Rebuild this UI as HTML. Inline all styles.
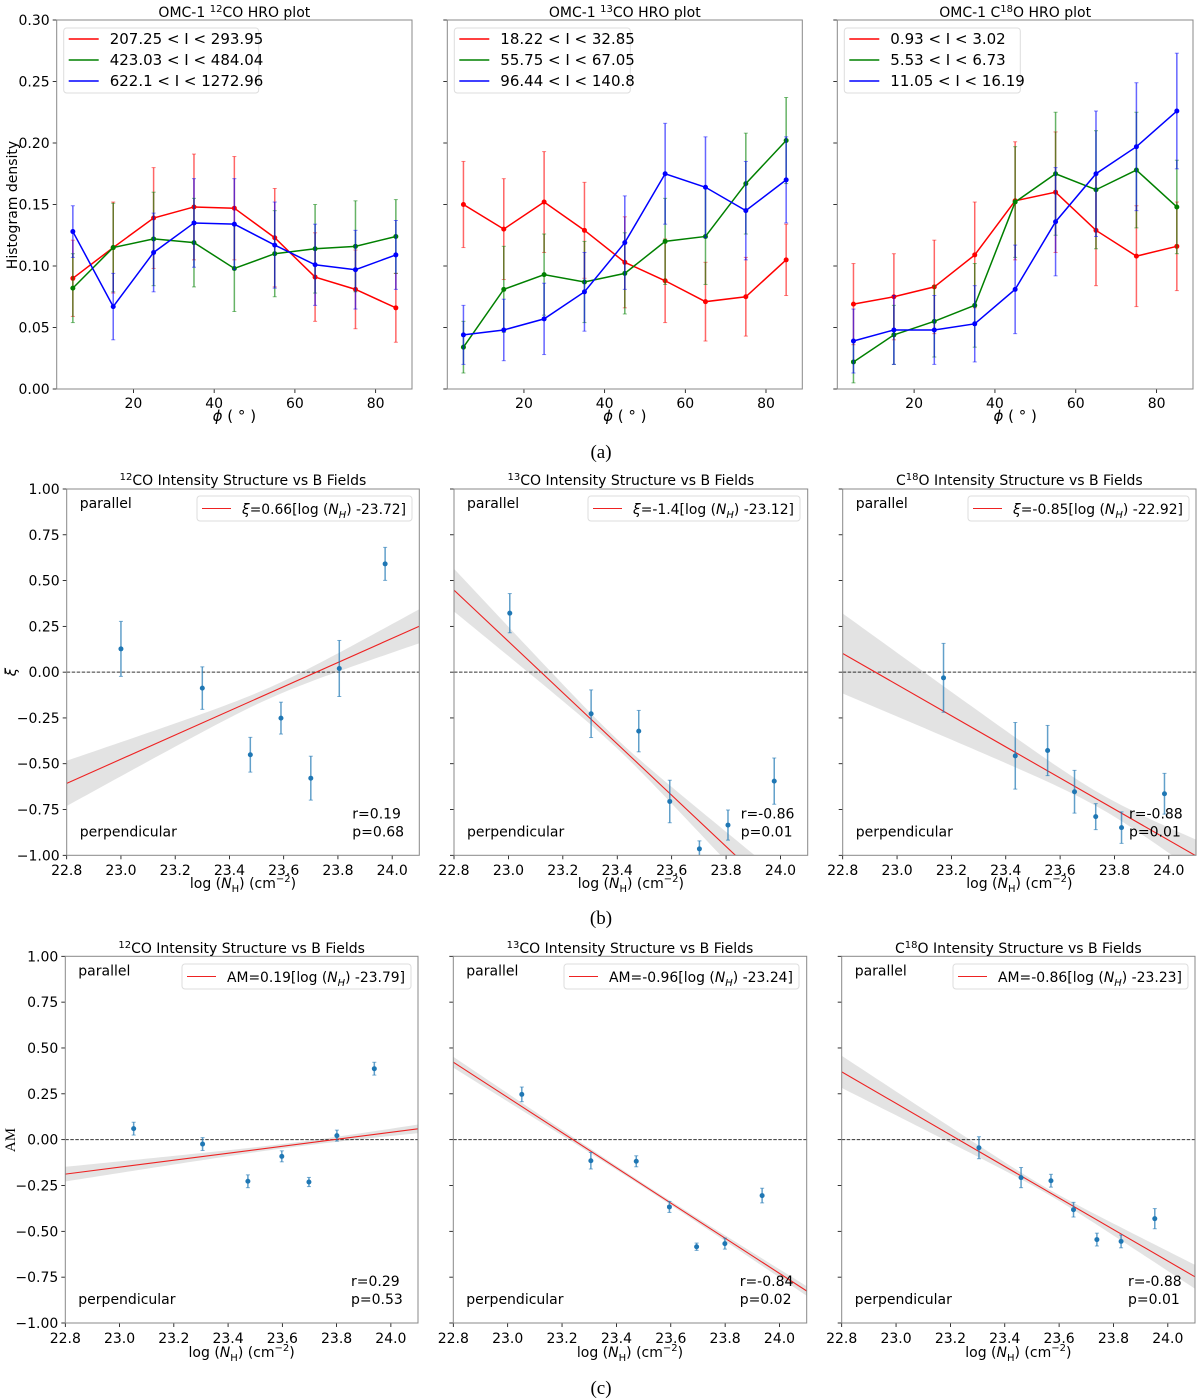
<!DOCTYPE html>
<html><head><meta charset="utf-8"><style>
html,body{margin:0;padding:0;background:#fff;}
svg{display:block;font-family:"DejaVu Sans","Liberation Sans",sans-serif;}
</style></head>
<body>
<svg id="fig" width="1200" height="1400" viewBox="0 0 1200 1400" xmlns="http://www.w3.org/2000/svg"></svg>
<script>
// ---------- Row (a) HRO data ----------
const phi=[5,15,25,35,45,55,65,75,85];
const hroTicksX=[20,40,60,80];
const hroTicksY=[0,0.05,0.10,0.15,0.20,0.25,0.30];
const hroTitles=['<tspan>OMC-1 </tspan><tspan dy="-5" font-size="10">12</tspan><tspan dy="5">CO HRO plot</tspan>','<tspan>OMC-1 </tspan><tspan dy="-5" font-size="10">13</tspan><tspan dy="5">CO HRO plot</tspan>','<tspan>OMC-1 C</tspan><tspan dy="-5" font-size="10">18</tspan><tspan dy="5">O HRO plot</tspan>'];
const hroLegend1=['207.25 < I < 293.95','423.03 < I < 484.04','622.1 < I < 1272.96'];
const hroLegend2=['18.22 < I < 32.85','55.75 < I < 67.05','96.44 < I < 140.8'];
const hroLegend3=['0.93 < I < 3.02','5.53 < I < 6.73','11.05 < I < 16.19'];
const co12Red=[0.090,0.115,0.139,0.148,0.147,0.123,0.091,0.081,0.066];
const co12RedErr=[0.031,0.037,0.041,0.043,0.042,0.040,0.036,0.032,0.028];
const co12Green=[0.082,0.115,0.122,0.119,0.098,0.110,0.114,0.116,0.124];
const co12GreenErr=[0.028,0.036,0.038,0.036,0.035,0.035,0.036,0.037,0.030];
const co12Blue=[0.128,0.067,0.111,0.135,0.134,0.117,0.101,0.097,0.109];
const co12BlueErr=[0.021,0.027,0.032,0.036,0.037,0.035,0.033,0.032,0.028];
const co13Red=[0.150,0.130,0.152,0.129,0.103,0.088,0.071,0.075,0.105];
const co13RedErr=[0.035,0.041,0.041,0.039,0.037,0.034,0.032,0.032,0.029];
const co13Green=[0.034,0.081,0.093,0.087,0.094,0.120,0.124,0.167,0.202];
const co13GreenErr=[0.021,0.035,0.033,0.033,0.033,0.035,0.039,0.041,0.035];
const co13Blue=[0.044,0.048,0.057,0.079,0.119,0.175,0.164,0.145,0.170];
const co13BlueErr=[0.024,0.025,0.029,0.032,0.038,0.041,0.041,0.040,0.035];
const c18Red=[0.069,0.075,0.083,0.109,0.153,0.160,0.129,0.108,0.116];
const c18RedErr=[0.033,0.035,0.038,0.043,0.048,0.049,0.045,0.041,0.036];
const c18Green=[0.022,0.044,0.055,0.068,0.152,0.175,0.162,0.178,0.148];
const c18GreenErr=[0.017,0.024,0.029,0.034,0.045,0.050,0.048,0.047,0.038];
const c18Blue=[0.039,0.048,0.048,0.053,0.081,0.136,0.175,0.197,0.226];
const c18BlueErr=[0.026,0.028,0.028,0.031,0.036,0.044,0.051,0.052,0.047];

// ---------- Rows (b),(c) data ----------
const nhTicks=[22.8,23.0,23.2,23.4,23.6,23.8,24.0];
const valTicks=[1.0,0.75,0.5,0.25,0,-0.25,-0.5,-0.75,-1.0];
const xiX12=[23.00,23.30,23.477,23.59,23.70,23.805,23.974];
const xiY12=[0.127,-0.087,-0.451,-0.251,-0.579,0.020,0.591];
const xiE12=[0.15,0.116,0.095,0.087,0.12,0.153,0.09];
const xiX13=[23.005,23.304,23.479,23.593,23.702,23.807,23.977];
const xiY13=[0.322,-0.227,-0.322,-0.706,-0.965,-0.835,-0.595];
const xiE13=[0.107,0.13,0.113,0.116,0.044,0.082,0.126];
const xiX18=[23.171,23.435,23.554,23.653,23.731,23.826,23.984];
const xiY18=[-0.031,-0.457,-0.428,-0.653,-0.789,-0.849,-0.664];
const xiE18=[0.188,0.182,0.137,0.117,0.071,0.086,0.111];
const amX12=[23.052,23.306,23.473,23.598,23.698,23.801,23.939];
const amY12=[0.060,-0.024,-0.227,-0.091,-0.231,0.022,0.387];
const amE12=[0.035,0.035,0.035,0.03,0.025,0.03,0.035];
const amX13=[23.052,23.306,23.473,23.595,23.695,23.799,23.936];
const amY13=[0.247,-0.115,-0.118,-0.367,-0.584,-0.567,-0.305];
const amE13=[0.04,0.045,0.03,0.03,0.02,0.03,0.04];
const amX18=[23.305,23.460,23.570,23.653,23.739,23.828,23.952];
const amY18=[-0.044,-0.207,-0.224,-0.382,-0.545,-0.555,-0.431];
const amE18=[0.06,0.055,0.035,0.04,0.035,0.035,0.055];
// fit params: slope, intercept-x, band s0, band s1, band centre
const fitSlope=[0.66,-1.4,-0.85,0.19,-0.96,-0.86];
const fitX0=[23.72,23.12,22.92,23.79,23.24,23.23];
const bandS0=[0.03,0.025,0.04,0.012,0.01,0.015];
const bandS1=[0.16,0.19,0.226,0.045,0.04,0.115];
const bandXm=[23.55,23.4,23.75,23.65,23.5,23.55];
const rLabels=['r=0.19','r=-0.86','r=-0.88','r=0.29','r=-0.84','r=-0.88'];
const pLabels=['p=0.68','p=0.01','p=0.01','p=0.53','p=0.02','p=0.01'];

const NS='http://www.w3.org/2000/svg';
const svg=document.getElementById('fig');
function mk(tag,attrs,parent){const e=document.createElementNS(NS,tag);for(const k in attrs)e.setAttribute(k,attrs[k]);(parent||svg).appendChild(e);return e;}
function fmt(v,d){const s=Math.abs(v).toFixed(d);return (v<0?'\u2212':'')+s;}

// ---------- Row (a) ----------
const aFrames=[[56.7,412],[447.3,802.3],[837.3,1193]];
const aY0=389,aY1=20;
const hroSeries=[
 [[co12Red,co12RedErr],[co12Green,co12GreenErr],[co12Blue,co12BlueErr]],
 [[co13Red,co13RedErr],[co13Green,co13GreenErr],[co13Blue,co13BlueErr]],
 [[c18Red,c18RedErr],[c18Green,c18GreenErr],[c18Blue,c18BlueErr]]];
const hroLegends=[hroLegend1,hroLegend2,hroLegend3];
const hroColors=['#ff0000','#008000','#0000ff'];
const legW=[195,176,176];
aFrames.forEach((f,pi)=>{
  const x0=f[0],x1=f[1];
  const sx=v=>x0+(v-1)/88*(x1-x0);
  const sy=v=>aY0+(v-0)/0.3*(aY1-aY0);
  const g=mk('g',{});
  
  
  hroTicksY.forEach(t=>{
    const tk=mk('line',{x1:x0-4,x2:x0,y1:sy(t),y2:sy(t),stroke:'#000','stroke-width':0.8},g);
    
    
    if(pi===0){const tl=mk('text',{x:x0-7,y:sy(t)+5,'text-anchor':'end','font-size':14},g);tl.textContent=t.toFixed(2);
      
      }
  });
  hroTicksX.forEach(t=>{
    const tk=mk('line',{x1:sx(t),x2:sx(t),y1:aY0,y2:aY0+4,stroke:'#000','stroke-width':0.8},g);
    
    
    const tl=mk('text',{x:sx(t),y:aY0+19,'text-anchor':'middle','font-size':14},g);tl.textContent=t;
    
    
  });
  hroSeries[pi].forEach((s,si)=>{
    const vals=s[0],errs=s[1],col=hroColors[si];
    vals.forEach((v,i)=>{
      const x=sx(phi[i]);
      const eb=mk('line',{x1:x,x2:x,y1:sy(v-errs[i]),y2:sy(v+errs[i]),stroke:col,'stroke-width':1.5,'stroke-opacity':0.6},g);
      
      
      [v-errs[i],v+errs[i]].forEach(e=>{mk('line',{x1:x-2,x2:x+2,y1:sy(e),y2:sy(e),stroke:col,'stroke-width':1,'stroke-opacity':0.5},g);});
    });
    const pl=mk('polyline',{points:vals.map((v,i)=>sx(phi[i])+','+sy(v)).join(' '),fill:'none',stroke:col,'stroke-width':1.5},g);
    
    
    vals.forEach((v,i)=>{
      const c=mk('circle',{cx:sx(phi[i]),cy:sy(v),r:2.5,fill:col},g);
      
      
    });
  });
  const fr=mk('rect',{x:x0,y:aY1,width:x1-x0,height:aY0-aY1,fill:'none',stroke:'#888','stroke-width':1},g);
  
  
  const tt=mk('text',{x:(x0+x1)/2,y:17,'text-anchor':'middle','font-size':14},g);
  tt.innerHTML=hroTitles[pi];
  
  
  const xl=mk('text',{x:(x0+x1)/2,y:421,'text-anchor':'middle','font-size':15},g);
  xl.innerHTML='<tspan font-style="italic">\u03d5</tspan> ( \u00b0 )';
  
  
  const lg=mk('g',{},g);
  
  
  mk('rect',{x:x0+7,y:28,width:legW[pi],height:65,rx:3,fill:'#fff','fill-opacity':0.85,stroke:'#ddd'},lg);
  hroLegends[pi].forEach((lab,i)=>{
    const yy=39+i*21;
    mk('line',{x1:x0+12,x2:x0+42,y1:yy,y2:yy,stroke:hroColors[i],'stroke-width':1.5},lg);
    const lt=mk('text',{x:x0+53,y:yy+5,'font-size':15},lg);lt.textContent=lab;
    
    
  });
});
const yA=mk('text',{x:0,y:0,'text-anchor':'middle','font-size':14,transform:'translate(17,205) rotate(-90)'});
yA.textContent='Histogram density';



// ---------- Rows (b),(c) ----------
const rows=[
 {frames:[[66.7,419.3],[454,807.7],[842.7,1196]],y1:489,y0:855.3,title:485,ticky:875,xl:888,
  sets:[[xiX12,xiY12,xiE12],[xiX13,xiY13,xiE13],[xiX18,xiY18,xiE18]],sym:'\u03be',symItalic:true,legBox:[[197,412],[588,800],[968,1189]],legY:496},
 {frames:[[65.3,418],[453.3,806.7],[841.7,1195]],y1:956.3,y0:1323,title:953,ticky:1343,xl:1357,
  sets:[[amX12,amY12,amE12],[amX13,amY13,amE13],[amX18,amY18,amE18]],sym:'AM',symItalic:false,legBox:[[182,411],[564,799],[953,1188]],legY:964}];
const isoTitles=['<tspan dy="-5" font-size="10">12</tspan><tspan dy="5">CO Intensity Structure vs B Fields</tspan>','<tspan dy="-5" font-size="10">13</tspan><tspan dy="5">CO Intensity Structure vs B Fields</tspan>','<tspan>C</tspan><tspan dy="-5" font-size="10">18</tspan><tspan dy="5">O Intensity Structure vs B Fields</tspan>'];
rows.forEach((R,ri)=>{
  R.frames.forEach((f,pi)=>{
    const k=ri*3+pi;
    const x0=f[0],x1=f[1];
    const sx=v=>x0+(v-22.8)/1.3*(x1-x0);
    const sy=v=>R.y0+(v+1)/2*(R.y1-R.y0);
    const g=mk('g',{});
    
    
    const cid='clip'+k;
    const cp=mk('clipPath',{id:cid},g);mk('rect',{x:x0,y:R.y1,width:x1-x0,height:R.y0-R.y1},cp);
    const cg=mk('g',{'clip-path':'url(#'+cid+')'},g);
    const up=[],lo=[];
    for(let i=0;i<=52;i++){const x=22.8+1.3*i/52;const yv=fitSlope[k]*(x-fitX0[k]);const h=Math.sqrt(bandS0[k]**2+(bandS1[k]*(x-bandXm[k]))**2);up.push(sx(x)+','+sy(yv+h));lo.unshift(sx(x)+','+sy(yv-h));}
    const band=mk('polygon',{points:up.concat(lo).join(' '),fill:'#d9d9d9','fill-opacity':0.75},cg);
    
    
    const zl=mk('line',{x1:x0,x2:x1,y1:sy(0),y2:sy(0),stroke:'#000','stroke-width':1,'stroke-dasharray':'3.5,1.5','stroke-opacity':0.8},cg);
    
    
    const fl=mk('line',{x1:sx(22.8),x2:sx(24.1),y1:sy(fitSlope[k]*(22.8-fitX0[k])),y2:sy(fitSlope[k]*(24.1-fitX0[k])),stroke:'#ee2222','stroke-width':1.1},cg);
    
    
    const d=R.sets[pi];
    d[0].forEach((xv,i)=>{
      const x=sx(xv);
      const eb=mk('line',{x1:x,x2:x,y1:sy(d[1][i]-d[2][i]),y2:sy(d[1][i]+d[2][i]),stroke:'#1f77b4','stroke-width':1.5,'stroke-opacity':0.7},cg);
      
      
      [d[1][i]-d[2][i],d[1][i]+d[2][i]].forEach(e=>{mk('line',{x1:x-2,x2:x+2,y1:sy(e),y2:sy(e),stroke:'#1f77b4','stroke-width':1,'stroke-opacity':0.6},cg);});
      const c=mk('circle',{cx:x,cy:sy(d[1][i]),r:2.5,fill:'#1f77b4'},cg);
      
      
    });
    valTicks.forEach(t=>{
      const tk=mk('line',{x1:x0-4,x2:x0,y1:sy(t),y2:sy(t),stroke:'#000','stroke-width':0.8},g);
      
      
      if(pi===0){const tl=mk('text',{x:x0-7,y:sy(t)+5,'text-anchor':'end','font-size':14},g);tl.textContent=fmt(t,2);
        
        }
    });
    nhTicks.forEach(t=>{
      const tk=mk('line',{x1:sx(t),x2:sx(t),y1:R.y0,y2:R.y0+4,stroke:'#000','stroke-width':0.8},g);
      
      
      const tl=mk('text',{x:sx(t),y:R.ticky,'text-anchor':'middle','font-size':14},g);tl.textContent=t.toFixed(1);
      
      
    });
    const fr=mk('rect',{x:x0,y:R.y1,width:x1-x0,height:R.y0-R.y1,fill:'none',stroke:'#888','stroke-width':1},g);
    
    
    const tt=mk('text',{x:(x0+x1)/2,y:R.title,'text-anchor':'middle','font-size':14},g);
    tt.innerHTML=isoTitles[pi];
    
    
    const xl=mk('text',{x:(x0+x1)/2,y:R.xl,'text-anchor':'middle','font-size':14},g);
    xl.innerHTML='log (<tspan font-style="italic">N</tspan><tspan dy="4" font-size="10">H</tspan><tspan dy="-4">) (cm</tspan><tspan dy="-6" font-size="10">\u22122</tspan><tspan dy="6">)</tspan>';
    
    
    const pa=mk('text',{x:x0+13,y:R.y1+19,'font-size':14},g);pa.textContent='parallel';
    
    
    const pe=mk('text',{x:x0+13,y:R.y0-19,'font-size':14},g);pe.textContent='perpendicular';
    
    
    const rt=mk('text',{x:x1-67,y:R.y0-37,'font-size':14},g);rt.textContent=rLabels[k];
    
    
    const pt=mk('text',{x:x1-67,y:R.y0-19,'font-size':14},g);pt.textContent=pLabels[k];
    
    
    const lb=R.legBox[pi];
    const lg=mk('g',{},g);
    
    
    mk('rect',{x:lb[0],y:R.legY,width:lb[1]-lb[0],height:25,rx:3,fill:'#fff','fill-opacity':0.85,stroke:'#ddd'},lg);
    mk('line',{x1:lb[0]+5,x2:lb[0]+34,y1:R.legY+12.5,y2:R.legY+12.5,stroke:'#ee2222','stroke-width':1.1},lg);
    const sl=fitSlope[k],sx0=fitX0[k];
    const lt=mk('text',{x:lb[0]+45,y:R.legY+18,'font-size':14,textLength:(lb[1]-6-(lb[0]+45)),lengthAdjust:'spacingAndGlyphs'},lg);
    lt.innerHTML=(R.symItalic?'<tspan font-style="italic">'+R.sym+'</tspan>':R.sym)+'='+sl+'[log (<tspan font-style="italic">N</tspan><tspan dy="4" font-size="10" font-style="italic">H</tspan><tspan dy="-4">) -'+sx0.toFixed(2)+']</tspan>';
    
    
  });
});
const yB=mk('text',{x:0,y:0,'text-anchor':'middle','font-size':15,'font-style':'italic',transform:'translate(16,672) rotate(-90)'});
yB.textContent='\u03be';


const yC=mk('text',{x:0,y:0,'text-anchor':'middle','font-size':15,'font-family':'Liberation Serif, serif',transform:'translate(15,1140) rotate(-90)'});
yC.textContent='AM';


['(a)','(b)','(c)'].forEach((s,i)=>{
  const t=mk('text',{x:601,y:[458,924,1394][i],'text-anchor':'middle','font-size':19,'font-family':'Liberation Serif, serif'});
  t.textContent=s;
  
  
});
</script>
</body></html>
